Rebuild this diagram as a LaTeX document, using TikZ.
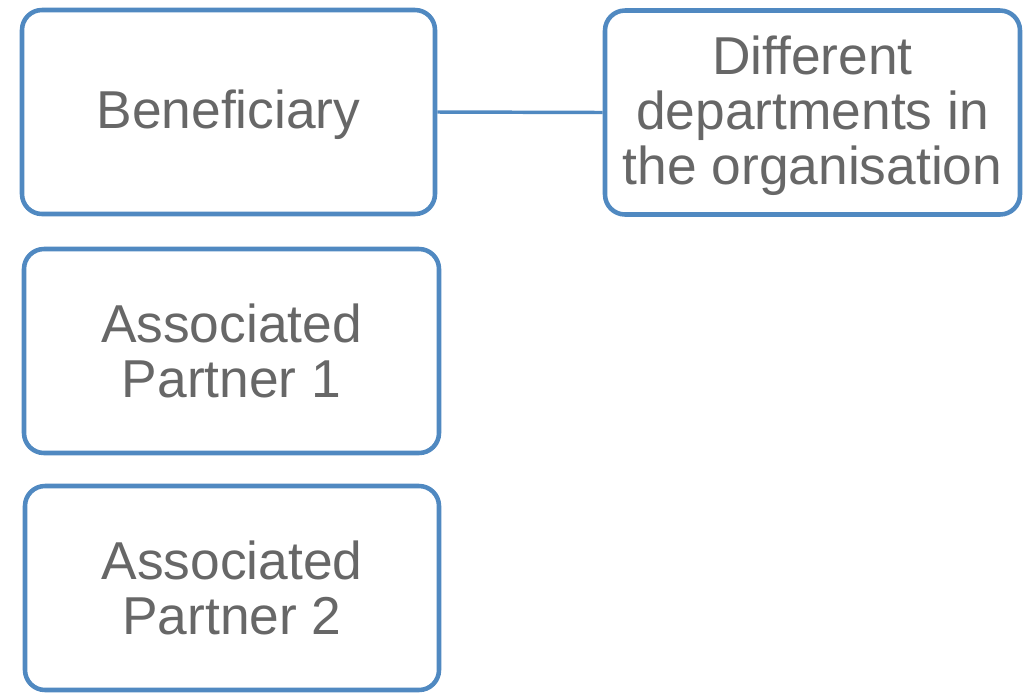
\documentclass[tikz,border=0pt]{standalone}
\usepackage{fontspec}
\setmainfont{Liberation Sans}
\definecolor{boxblue}{RGB}{80,137,193}
\definecolor{txtgray}{RGB}{103,103,103}
\begin{document}
\begin{tikzpicture}[x=0.75pt,y=-0.75pt,
  orgbox/.style={draw=boxblue, line width=3.4pt, rounded corners=15pt, fill=white,
    minimum width=#1*0.75pt, minimum height=153pt, inner sep=0pt},
  orgtext/.style={inner sep=0pt, align=center, text=txtgray,
    font=\fontsize{40}{41.2}\selectfont},
  link/.style={draw=boxblue, line width=2.6pt}]
\useasboundingbox (0,0) rectangle (1031,694);
\node[orgbox=413] (ben) at (228.5,112) {};
\node[orgbox=415] (dep) at (812.5,112.5) {};
\node[orgbox=415] (ap1) at (231.5,351) {};
\node[orgbox=414] (ap2) at (232,588) {};
\node[orgtext] (benT) at ([yshift=-2pt]ben.center) {Beneficiary};
\node[orgtext] (depT) at ([yshift=-2.5pt]dep.center) {Different\\departments in\\the organisation};
\node[orgtext] (ap1T) at ([yshift=0pt]ap1.center) {Associated\\Partner 1};
\node[orgtext] (ap2T) at ([yshift=0pt]ap2.center) {Associated\\Partner 2};
\draw[link] (ben.east) -- (dep.west);
\end{tikzpicture}
\end{document}
